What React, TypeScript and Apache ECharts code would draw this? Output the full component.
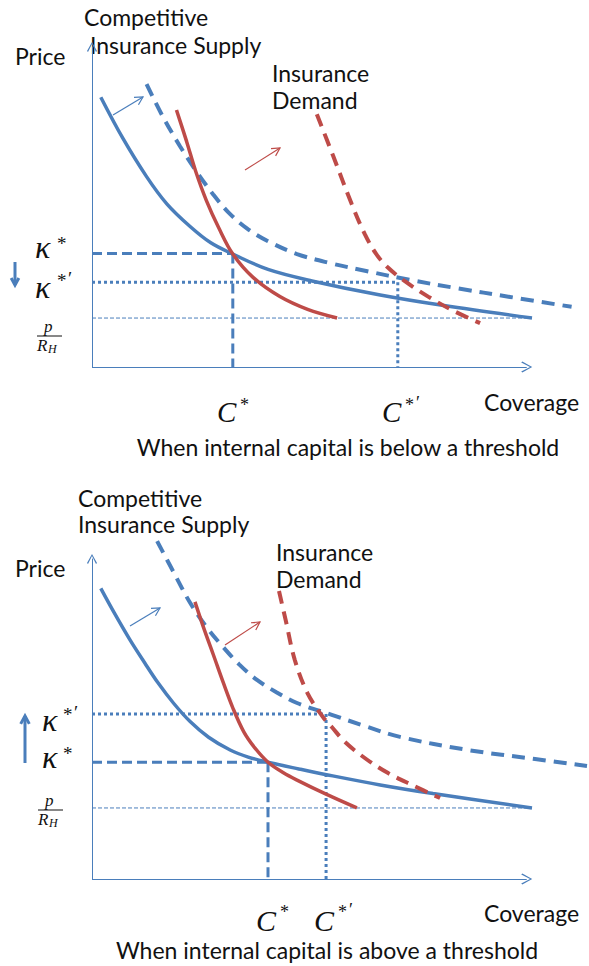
import React, { useEffect, useRef } from 'react';
import * as echarts from 'echarts';

// ---------- Data (Coverage 0..100, Price 0..100 in each panel; axes drawn to 100) ----------
// Top panel: internal capital below a threshold
const topSupply = [[2, 84.3], [7, 71.5], [12.4, 59.5], [17, 51], [22.3, 43.9], [27, 38.8], [32, 35.3], [40, 30.5], [50, 26.9], [65.5, 22.5], [80, 19.2], [100, 15.3]];
const topSupplyShifted = [[12.4, 88.4], [16, 78.5], [20, 69], [24, 60.6], [27.5, 54], [31, 48.3], [35.2, 43.3], [40, 39.3], [46.6, 35.3], [54, 32.5], [62.3, 30], [72.3, 27.2], [83, 24.6], [95, 21.9], [109, 18.8]];
const topDemand = [[19.2, 80.3], [21.5, 70.5], [23.6, 61], [26, 52], [28.8, 43.5], [32, 35.3], [36.6, 28], [42.7, 22], [49, 18], [55.7, 15.3]];
const topDemandShifted = [[51.1, 79], [54.8, 66], [59, 51], [62, 41.5], [64.5, 35.5], [67, 31.4], [71.1, 26.8], [76.4, 22], [81.8, 17.8], [88.2, 13.7]];
const topKappa = 35.5;
const topKappaP = 26.5;
const topC = 32;
const topCP = 69.5;
const topPRH = 15.3;

// Bottom panel: internal capital above a threshold
const botSupply = [[2, 90.8], [5, 83.3], [8.6, 74.8], [12, 67.5], [15, 61.3], [18.5, 55], [22.3, 49.2], [26.5, 44.3], [31.4, 40.3], [35.5, 38.1], [40, 36.5], [47, 34.4], [53.3, 32.6], [65.5, 29.4], [77.5, 26.7], [100, 22.2]];
const botSupplyShifted = [[14.8, 105.6], [18.5, 96], [22.3, 86.3], [26, 78.8], [29.8, 72.5], [33.5, 67], [37.5, 62.2], [42, 58.3], [46.6, 55], [54.5, 51.3], [62, 47.8], [70, 44.4], [85.5, 40.3], [100.7, 37.5], [112.5, 35.3]];
const botDemand = [[23.4, 86.6], [25.5, 78], [27.6, 70], [29.8, 61.5], [32, 53.5], [34.5, 46], [37, 41], [40, 36.5], [43.5, 33.2], [46.6, 30.9], [53.2, 26.5], [60.2, 22.2]];
const botDemandShifted = [[42.5, 90], [44, 81], [46.1, 68.4], [49, 58], [52.5, 50.6], [54.5, 47.5], [57.5, 42.8], [62.3, 37.5], [67.3, 33.1], [72.7, 29.4], [79.1, 25.3]];
const botKappa = 36.5;
const botKappaP = 51.6;
const botC = 40;
const botCP = 53.2;
const botPRH = 22.2;

const axisEnd = 98.8;   // where the drawn x axis ends (arrow tip)
const viewMaxX = 112.9; // coverage range of the plotting area (curves run past the axis)
const viewMaxY = 100;

// ---------- Styles ----------
const BLUE = '#4A7EBB';
const RED = '#BE4B48';
const SANS = 'Lato, "Open Sans", sans-serif';
const SERIF = '"Liberation Serif", "DejaVu Serif", serif';
const ARROW = 'path://M5,0 L10,9 L9,10 L5,2 L1,10 L0,9 Z';

function curve(data: number[][], g: number, color: string, dashed: boolean) {
  return {
    type: 'line', xAxisIndex: g, yAxisIndex: g, data, smooth: 0.35, showSymbol: false, symbol: 'none',
    clip: false, silent: true, z: 3,
    lineStyle: { color, width: dashed ? 4 : 3.5, type: dashed ? [13, 8] : 'solid', cap: 'butt' },
  };
}
function level(data: number[][], g: number, type: any, width: number, extra: any = {}) {
  return {
    type: 'line', xAxisIndex: g, yAxisIndex: g, data, showSymbol: false, symbol: 'none', clip: false, silent: true, z: 2,
    lineStyle: { color: BLUE, width, type, cap: 'butt' },
    ...extra,
  };
}
const xAxisLine = {
  markLine: {
    silent: true, symbol: ['none', ARROW], symbolSize: 11, animation: false,
    lineStyle: { color: BLUE, width: 1, type: 'solid' }, label: { show: false }, emphasis: { disabled: true },
    data: [[{ coord: [0, 0] }, { coord: [axisEnd, 0] }]],
  },
};

function arrow(x1: number, y1: number, x2: number, y2: number, color: string, width: number, head: number) {
  const a = Math.atan2(y2 - y1, x2 - x1);
  const s = 0.5;
  const h1 = [x2 - head * Math.cos(a - s), y2 - head * Math.sin(a - s)];
  const h2 = [x2 - head * Math.cos(a + s), y2 - head * Math.sin(a + s)];
  return [
    { type: 'line', shape: { x1, y1, x2, y2 }, style: { stroke: color, lineWidth: width }, silent: true },
    { type: 'polyline', shape: { points: [h1, [x2, y2], h2] }, style: { stroke: color, lineWidth: width, fill: null }, silent: true },
  ];
}

function txt(text: string, x: number, y: number, size: number, opts: any = {}) {
  return {
    type: 'text', x, y, silent: true,
    style: {
      text, fill: opts.fill || '#111', fontSize: size, fontFamily: opts.family || SANS,
      fontStyle: opts.italic ? 'italic' : 'normal',
      textAlign: opts.align || 'left', textVerticalAlign: 'middle',
      align: opts.align || 'left', verticalAlign: 'middle',
    },
  };
}
const mathI = (t: string, x: number, y: number, size: number) => txt(t, x, y, size, { family: SERIF, italic: true });
const mathR = (t: string, x: number, y: number, size: number) => txt(t, x, y, size, { family: SERIF });
const kappa = (x: number, y: number) => txt('κ', x, y, 32, { family: SERIF, italic: true });

function frac(cx: number, py: number, size: number) {
  return [
    mathI('p', cx - 5, py, size),
    { type: 'line', shape: { x1: cx - 12, y1: py + 10, x2: cx + 13, y2: py + 10 }, style: { stroke: '#111', lineWidth: 1 }, silent: true },
    mathI('R', cx - 12, py + 19, size),
    mathI('H', cx - 1, py + 23, size - 5),
  ];
}

export default function App() {
  const ref = useRef<HTMLDivElement>(null);
  useEffect(() => {
    if (!ref.current) return;
    const chart = echarts.init(ref.current, null, { renderer: 'svg' });
    const hidden = { axisTick: { show: false }, axisLabel: { show: false }, splitLine: { show: false } };
    const xAxis = (g: number) => ({ type: 'value', gridIndex: g, min: 0, max: viewMaxX, ...hidden, axisLine: { show: false } });
    const yAxis = (g: number) => ({
      type: 'value', gridIndex: g, min: 0, max: viewMaxY, ...hidden,
      axisLine: { show: true, onZero: false, lineStyle: { color: BLUE, width: 1 }, symbol: ['none', ARROW], symbolSize: [11, 10] },
    });
    const graphics: any[] = [
      // top panel texts
      txt('Competitive', 84, 17, 23),
      txt('Insurance Supply', 90, 45, 23),
      txt('Price', 15, 56, 23),
      txt('Insurance', 272, 73, 23),
      txt('Demand', 272, 100, 23),
      txt('Coverage', 484, 402, 23),
      txt('When internal capital is below a threshold', 348, 447, 23, { align: 'center' }),
      kappa(35, 247), mathR('*', 57, 243, 19),
      kappa(35, 287), mathR('*', 57, 280, 19), mathR('′', 68, 278, 19),
      ...frac(49, 326, 17),
      mathI('C', 217, 412, 29), mathR('*', 240, 405, 18),
      mathI('C', 382, 412, 29), mathR('*', 405, 405, 18), mathR('′', 416, 403, 18),
      ...arrow(113, 115, 143, 97, BLUE, 1.2, 9),
      ...arrow(245, 170, 280, 148, RED, 1.2, 9),
      ...arrow(15, 262, 15, 285, BLUE, 3, 8),
      // bottom panel texts
      txt('Competitive', 78, 498, 23),
      txt('Insurance Supply', 78, 524, 23),
      txt('Price', 15, 568, 23),
      txt('Insurance', 276, 552, 23),
      txt('Demand', 276, 579, 23),
      txt('Coverage', 484, 913, 23),
      txt('When internal capital is above a threshold', 327, 950, 23, { align: 'center' }),
      kappa(42, 720), mathR('*', 63, 714, 19), mathR('′', 74, 712, 19),
      kappa(42, 757), mathR('*', 63, 753, 19),
      ...frac(50, 800, 17),
      mathI('C', 256, 920, 30), mathR('*', 280, 912, 18),
      mathI('C', 314, 920, 30), mathR('*', 338, 912, 18), mathR('′', 349, 910, 18),
      ...arrow(130, 626, 160, 608, BLUE, 1.2, 9),
      ...arrow(225, 645, 260, 622, RED, 1.2, 9),
      ...arrow(25, 763, 25, 716, BLUE, 3, 9),
    ];
    const plotW = 4.4 * viewMaxX;
    chart.setOption({
      animation: false,
      grid: [
        { left: 92, top: 47, width: plotW, height: 320 },
        { left: 92, top: 559, width: plotW, height: 320 },
      ],
      xAxis: [xAxis(0), xAxis(1)],
      yAxis: [yAxis(0), yAxis(1)],
      series: [
        // top levels
        level([[0, topPRH], [100, topPRH]], 0, [4, 2], 1, xAxisLine),
        level([[0, topKappa], [topC, topKappa]], 0, [10, 5], 3),
        level([[topC, topKappa], [topC, 0]], 0, [10, 5], 3),
        level([[0, topKappaP], [topCP, topKappaP]], 0, [3, 3], 3),
        level([[topCP, topKappaP], [topCP, 0]], 0, [3, 3], 3),
        curve(topSupply, 0, BLUE, false),
        curve(topSupplyShifted, 0, BLUE, true),
        curve(topDemand, 0, RED, false),
        curve(topDemandShifted, 0, RED, true),
        // bottom levels
        level([[0, botPRH], [100, botPRH]], 1, [4, 2], 1, xAxisLine),
        level([[0, botKappa], [botC, botKappa]], 1, [10, 5], 3),
        level([[botC, botKappa], [botC, 0]], 1, [10, 5], 3),
        level([[0, botKappaP], [botCP, botKappaP]], 1, [3, 3], 3),
        level([[botCP, botKappaP], [botCP, 0]], 1, [3, 3], 3),
        curve(botSupply, 1, BLUE, false),
        curve(botSupplyShifted, 1, BLUE, true),
        curve(botDemand, 1, RED, false),
        curve(botDemandShifted, 1, RED, true),
      ],
      graphic: graphics,
    });
    return () => chart.dispose();
  }, []);
  return <div ref={ref} style={{ position: 'absolute', left: 0, top: 0, width: 589, height: 966, background: '#fff' }} />;
}
